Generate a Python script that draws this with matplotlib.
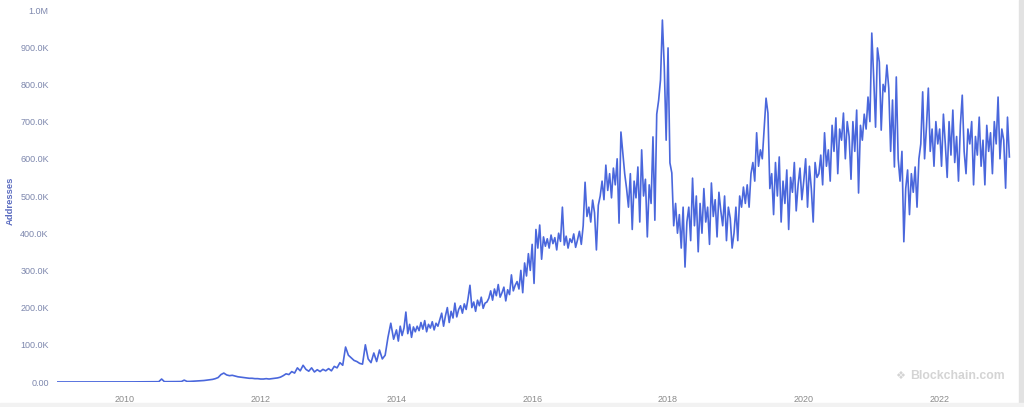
import numpy as np
import pandas as pd
import matplotlib
matplotlib.use("Agg")
import matplotlib.pyplot as plt
import matplotlib.dates as mdates
from matplotlib.ticker import FuncFormatter, MultipleLocator

# unique addresses used per day, thousands
# 2009-2013: two readings a month, 2014 on: three a month
y2009 = [0.1] * 24
y2010 = [0.2, 0.2, 0.3, 0.3, 0.4, 0.4, 0.5, 0.5, 0.6, 0.6, 0.7, 0.7,
         0.8, 8, 0.9, 0.9, 1, 1, 1.1, 1.2, 1.3, 5, 1.5, 1.6]
y2011 = [2, 2.5, 3, 3.5, 4, 5, 6, 7, 9, 12, 20, 24,
         19, 17, 18, 16, 14, 13, 12, 11, 10, 10, 9, 9]
y2012 = [8, 8, 9, 8, 9, 10, 11, 13, 17, 22, 20, 28,
         24, 38, 30, 45, 34, 29, 38, 27, 33, 28, 34, 30]
y2013 = [36, 30, 42, 38, 52, 45, 94, 72, 65, 58, 55, 50,
         48, 100, 62, 52, 78, 55, 86, 62, 72, 120, 158, 115]
y2014 = [140, 110, 150, 125, 145, 188, 130, 155, 120, 148, 135,
         150, 138, 160, 142, 165, 135, 155, 145, 162, 140, 158, 150,
         168, 185, 150, 178, 200, 160, 190, 172, 212, 175, 195, 205, 185]
y2015 = [210, 195, 225, 260, 200, 215, 190, 220, 205, 228, 198, 212, 215,
         225, 245, 220, 250, 232, 262, 228, 240, 255, 218, 248, 235, 288, 245, 260,
         270, 250, 300, 240, 320, 285, 345, 300]
y2016 = [370, 265, 410, 360, 422, 330,
         390, 365, 385, 360, 395, 372, 388, 355, 400, 378, 470, 368, 392, 360,
         385, 375, 398, 362, 382, 405, 370,
         420, 537, 445, 470, 430, 489, 455, 355, 475]
y2017 = [500, 540, 490, 583, 515, 560, 495, 575, 530, 600, 427, 672, 615, 560,
         520, 470, 560, 410, 540, 495, 578, 430, 624, 500, 545, 390, 530, 480,
         659, 435, 720, 757, 812, 973, 847, 650]
y2018 = [898, 589, 562, 420, 480, 400, 450, 360, 470, 309, 430,
         470, 380, 548, 420, 500, 350,
         480, 400, 520, 430, 470, 370, 535, 445, 490, 390, 510, 460, 420, 500,
         380, 470, 440, 360, 400]
y2019 = [470, 380, 500, 470, 524, 480, 530, 470, 560, 590, 540, 670, 580, 624,
         600, 680, 763, 723, 520,
         560, 450, 590, 500, 605, 430, 540, 480, 570, 410, 550, 510, 590, 460,
         530, 575, 490]
y2020 = [540, 600, 470, 580, 520, 430, 590, 550,
         560, 610, 530, 670, 580, 624, 540,
         690, 620, 710, 560, 680, 650, 723, 600, 700, 660, 545,
         700, 620, 731, 508, 690, 650, 720, 680, 766, 700]
y2021 = [938, 820, 685, 898, 860, 677, 800, 780, 852, 790, 620, 758,
         578, 820, 600, 540, 620, 377, 520, 570, 450, 560, 510, 578,
         470, 600, 640, 780, 600, 685, 790, 620, 680, 580, 700, 640]
y2022 = [680, 580, 720, 640, 550, 700, 610, 731, 590, 660, 540, 690,
         771, 620, 560, 680, 640, 700, 530, 660, 610, 712, 580, 650,
         530, 690, 620, 670, 560, 700, 640, 766, 600, 680, 650, 521]
y2023 = [712, 605]

years = [2009, 2010, 2011, 2012, 2013, 2014, 2015, 2016,
         2017, 2018, 2019, 2020, 2021, 2022, 2023]
series = [y2009, y2010, y2011, y2012, y2013, y2014, y2015, y2016,
          y2017, y2018, y2019, y2020, y2021, y2022, y2023]

dates, values = [], []
for yr, vals in zip(years, series):
    per_year = 36 if yr >= 2014 else 24
    d = pd.date_range(f"{yr}-01-01", f"{yr + 1}-01-01", periods=per_year + 1)[:-1]
    dates.extend(d[:len(vals)])
    values.extend(vals)
dates = pd.DatetimeIndex(dates)
values = np.array(values, dtype=float)

LINE = "#4a67dc"
YTICK = "#7d87ad"
XTICK = "#8a8a8a"

plt.rcParams["font.family"] = ["Liberation Sans", "DejaVu Sans"]

fig = plt.figure(figsize=(10.24, 4.07), dpi=100)
ax = fig.add_axes([57 / 1024, 25 / 407, (1014 - 57) / 1024, 372 / 407])

ax.plot(dates, values, color=LINE, lw=1.2)

ax.set_xlim(pd.Timestamp("2009-01-01"), pd.Timestamp("2023-02-05"))
ax.set_ylim(0, 1000)

def fmt_y(v, pos):
    if v == 0:
        return "0.00"
    if v >= 1000:
        return f"{v / 1000:.1f}M"
    return f"{v:.1f}K"

ax.yaxis.set_major_locator(MultipleLocator(100))
ax.yaxis.set_major_formatter(FuncFormatter(fmt_y))
ax.xaxis.set_major_locator(mdates.YearLocator(2))
ax.xaxis.set_major_formatter(mdates.DateFormatter("%Y"))

ax.tick_params(axis="y", length=0, pad=6, labelsize=6.5, labelcolor=YTICK)
ax.tick_params(axis="x", length=0, pad=9, labelsize=6.5, labelcolor=XTICK)
for s in ax.spines.values():
    s.set_visible(False)

fig.text(10 / 1024, 1 - 201 / 407, "Addresses", rotation=90, ha="center", va="center",
         fontsize=6.8, fontweight="bold", color="#5b6cc0")

# watermark
fig.text(900 / 1024, 1 - 376 / 407, "\u2756", ha="center", va="center",
         fontsize=8, color="#d4d4d4", family=["DejaVu Sans"])
fig.text(910 / 1024, 1 - 376 / 407, "Blockchain.com", ha="left", va="center",
         fontsize=8.8, fontweight="bold", color="#d4d4d4")

# page edges visible in the screenshot
fig.patches.append(plt.Rectangle((1019 / 1024, 0), 5 / 1024, 1, transform=fig.transFigure,
                                 color="#e2e2e2", zorder=0))
fig.patches.append(plt.Rectangle((0, 0), 1, 4 / 407, transform=fig.transFigure,
                                 color="#f2f2f2", zorder=0))

fig.savefig("out.png", dpi=100)
